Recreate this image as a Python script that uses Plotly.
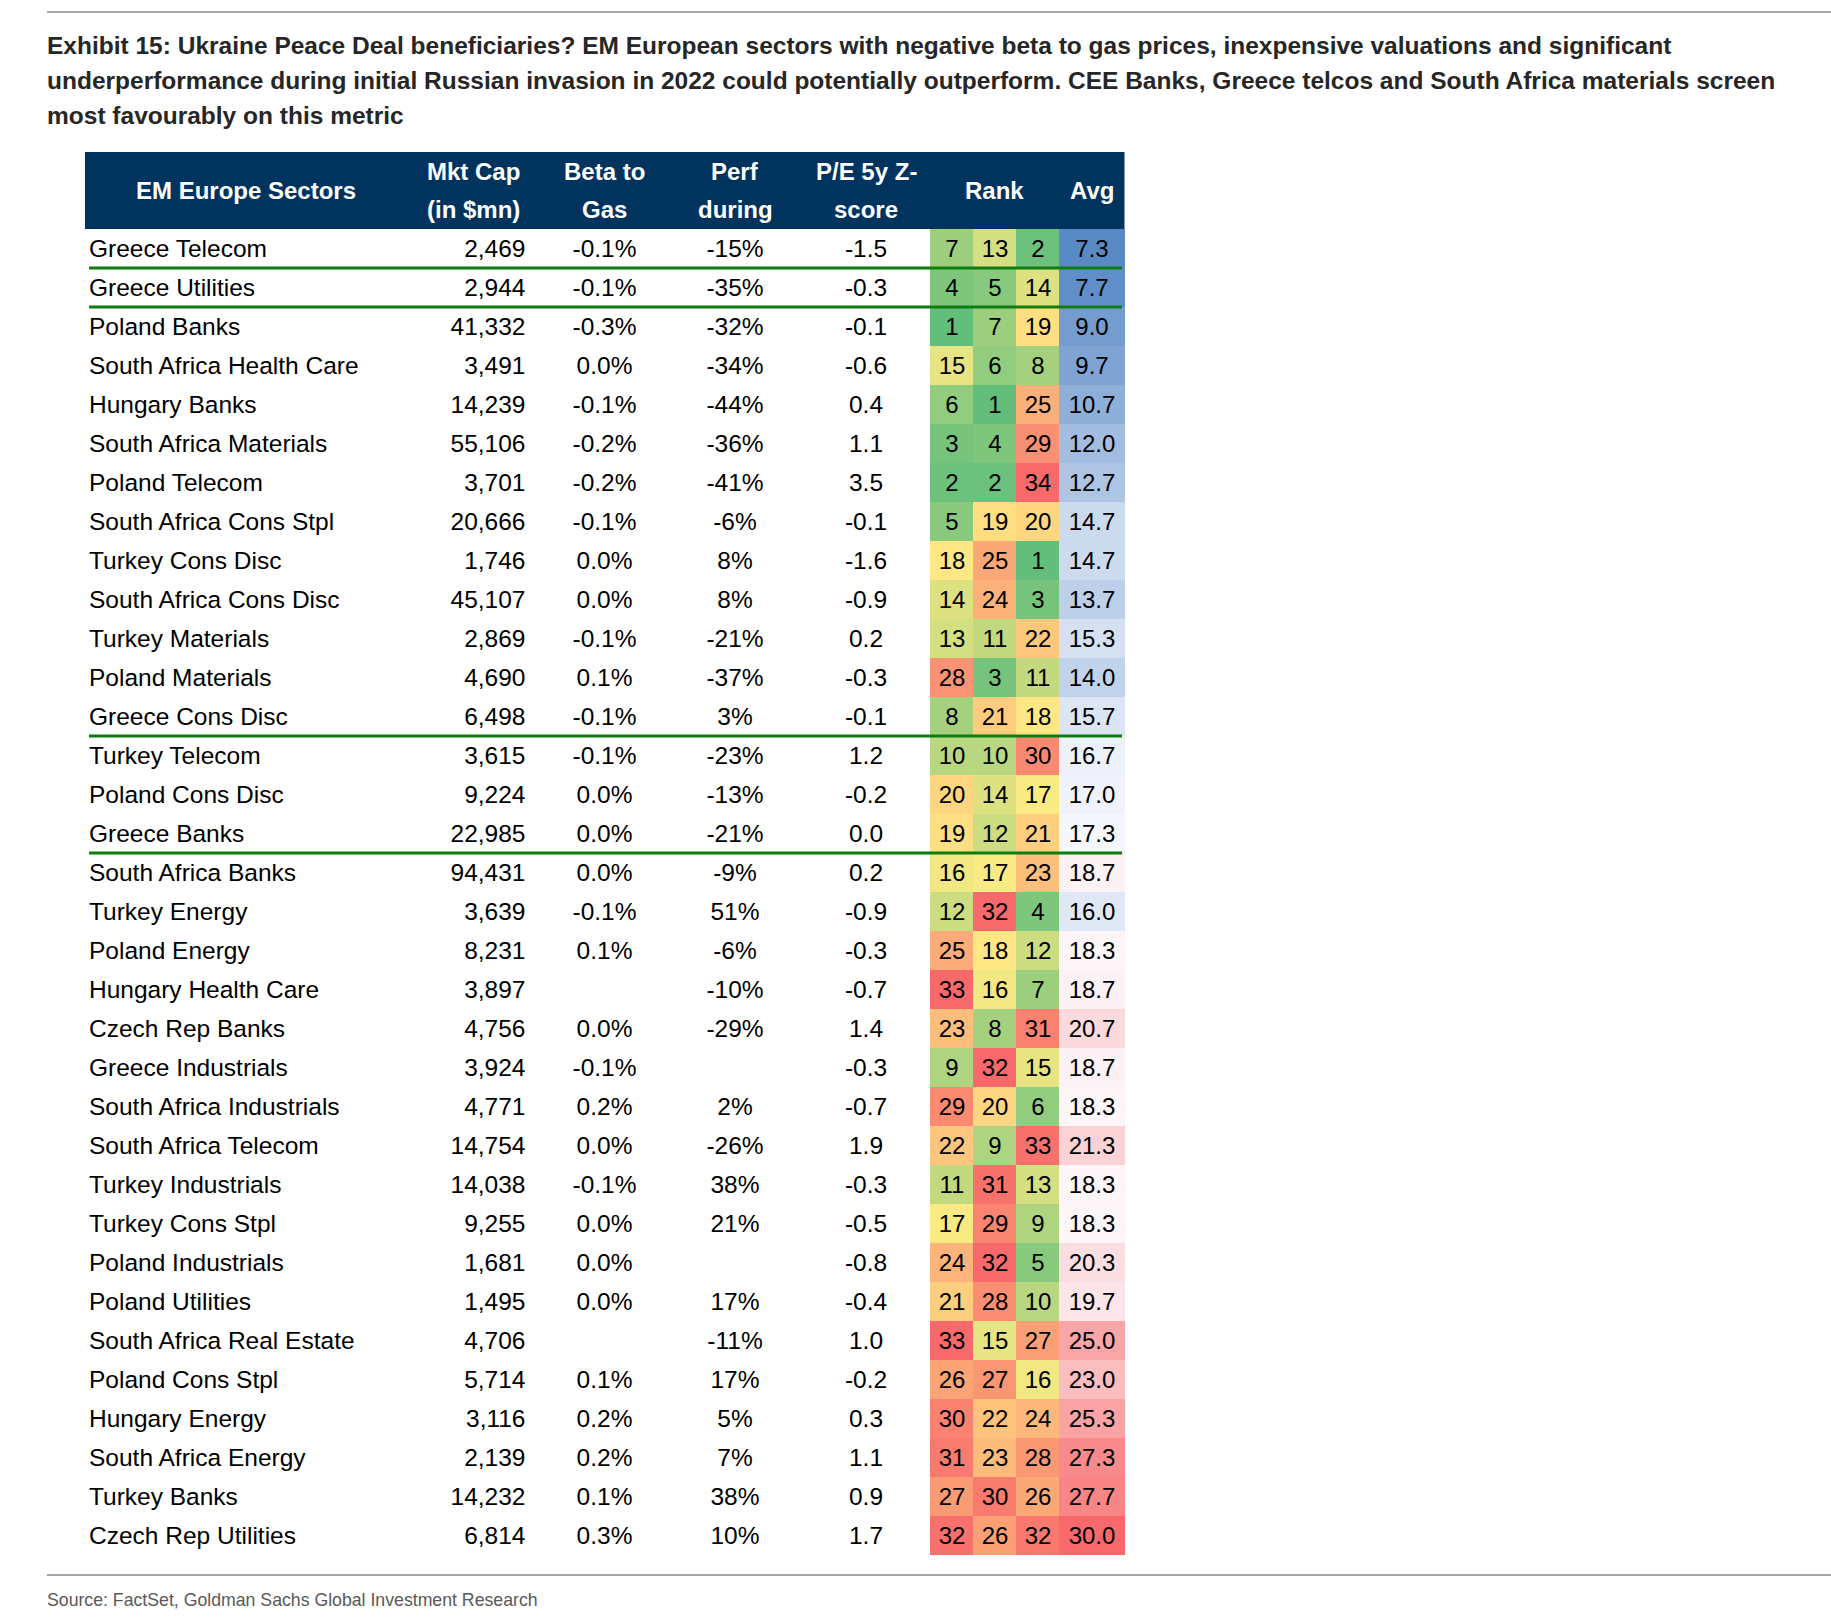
import numpy as np
import plotly.graph_objects as go

# ---------------- data ----------------
sectors = [
    "Greece Telecom", "Greece Utilities", "Poland Banks", "South Africa Health Care",
    "Hungary Banks", "South Africa Materials", "Poland Telecom", "South Africa Cons Stpl",
    "Turkey Cons Disc", "South Africa Cons Disc", "Turkey Materials", "Poland Materials",
    "Greece Cons Disc", "Turkey Telecom", "Poland Cons Disc", "Greece Banks",
    "South Africa Banks", "Turkey Energy", "Poland Energy", "Hungary Health Care",
    "Czech Rep Banks", "Greece Industrials", "South Africa Industrials", "South Africa Telecom",
    "Turkey Industrials", "Turkey Cons Stpl", "Poland Industrials", "Poland Utilities",
    "South Africa Real Estate", "Poland Cons Stpl", "Hungary Energy", "South Africa Energy",
    "Turkey Banks", "Czech Rep Utilities",
]
mkt_cap_mn = [2469, 2944, 41332, 3491, 14239, 55106, 3701, 20666, 1746, 45107, 2869, 4690,
              6498, 3615, 9224, 22985, 94431, 3639, 8231, 3897, 4756, 3924, 4771, 14754,
              14038, 9255, 1681, 1495, 4706, 5714, 3116, 2139, 14232, 6814]
beta_to_gas_pct = [-0.1, -0.1, -0.3, 0.0, -0.1, -0.2, -0.2, -0.1, 0.0, 0.0, -0.1, 0.1,
                   -0.1, -0.1, 0.0, 0.0, 0.0, -0.1, 0.1, None, 0.0, -0.1, 0.2, 0.0,
                   -0.1, 0.0, 0.0, 0.0, None, 0.1, 0.2, 0.2, 0.1, 0.3]
perf_during_pct = [-15, -35, -32, -34, -44, -36, -41, -6, 8, 8, -21, -37,
                   3, -23, -13, -21, -9, 51, -6, -10, -29, None, 2, -26,
                   38, 21, None, 17, -11, 17, 5, 7, 38, 10]
pe_5y_zscore = [-1.5, -0.3, -0.1, -0.6, 0.4, 1.1, 3.5, -0.1, -1.6, -0.9, 0.2, -0.3,
                -0.1, 1.2, -0.2, 0.0, 0.2, -0.9, -0.3, -0.7, 1.4, -0.3, -0.7, 1.9,
                -0.3, -0.5, -0.8, -0.4, 1.0, -0.2, 0.3, 1.1, 0.9, 1.7]
rank_beta = [7, 4, 1, 15, 6, 3, 2, 5, 18, 14, 13, 28, 8, 10, 20, 19, 16, 12, 25, 33,
             23, 9, 29, 22, 11, 17, 24, 21, 33, 26, 30, 31, 27, 32]
rank_perf = [13, 5, 7, 6, 1, 4, 2, 19, 25, 24, 11, 3, 21, 10, 14, 12, 17, 32, 18, 16,
             8, 32, 20, 9, 31, 29, 32, 28, 15, 27, 22, 23, 30, 26]
rank_pe = [2, 14, 19, 8, 25, 29, 34, 20, 1, 3, 22, 11, 18, 30, 17, 21, 23, 4, 12, 7,
           31, 15, 6, 33, 13, 9, 5, 10, 27, 16, 24, 28, 26, 32]
avg_rank = [7.3, 7.7, 9.0, 9.7, 10.7, 12.0, 12.7, 14.7, 14.7, 13.7, 15.3, 14.0, 15.7,
            16.7, 17.0, 17.3, 18.7, 16.0, 18.3, 18.7, 20.7, 18.7, 18.3, 21.3, 18.3,
            18.3, 20.3, 19.7, 25.0, 23.0, 25.3, 27.3, 27.7, 30.0]
separator_after = ["Greece Telecom", "Greece Utilities", "Greece Cons Disc", "Greece Banks"]

header_sector = "EM Europe Sectors"
header_cols = [("Mkt Cap", "(in $mn)"), ("Beta to", "Gas"), ("Perf", "during"), ("P/E 5y Z-", "score")]
header_rank = "Rank"
header_avg = "Avg"
title_lines = [
    "Exhibit 15: Ukraine Peace Deal beneficiaries? EM European sectors with negative beta to gas prices, inexpensive valuations and significant",
    "underperformance during initial Russian invasion in 2022 could potentially outperform. CEE Banks, Greece telcos and South Africa materials screen",
    "most favourably on this metric",
]
source_text = "Source: FactSet, Goldman Sachs Global Investment Research"

# ---------------- layout constants (pixels) ----------------
W, H = 1831, 1623
TABLE_LEFT, TABLE_RIGHT = 85, 1124.5
HEADER_TOP, HEADER_BOTTOM = 152, 229
ROW_H = 39.0
N = len(sectors)
TABLE_BOTTOM = HEADER_BOTTOM + ROW_H * N
TEXT_SHIFT = 2.5  # px nudge of the plain text columns relative to the heat cells
X_NAME = 89
X_MKT_RIGHT = 525.5
X_BETA = 604.5
X_PERF = 735
X_PE = 866
HEAT_EDGES = [930, 973, 1016, 1059, 1124.5]
LEFT_TEXT = 45

FONT = "Liberation Sans, Arial, sans-serif"


def py(p):
    """pixel y -> paper y"""
    return 1 - p / H


def px(p):
    return p / W


GREEN, YELLOW, RED = "#63BE7B", "#FFEB84", "#F8696B"
BLUE, WHITE = "#5A8AC6", "#FCFCFF"


def three_color(vals, lo, mid, hi):
    v = np.asarray(vals, dtype=float)
    vmin, vmax, vmed = v.min(), v.max(), np.median(v)
    m = (vmed - vmin) / (vmax - vmin)
    return dict(colorscale=[[0, lo], [m, mid], [1, hi]], zmin=vmin, zmax=vmax)


fig = go.Figure()

# heat columns
heat_specs = [
    (rank_beta, 0, (GREEN, YELLOW, RED), "%{z}"),
    (rank_perf, 1, (GREEN, YELLOW, RED), "%{z}"),
    (rank_pe, 2, (GREEN, YELLOW, RED), "%{z}"),
    (avg_rank, 3, (BLUE, WHITE, RED), "%{z:.1f}"),
]
for vals, ci, cols, tmpl in heat_specs:
    fig.add_trace(go.Heatmap(
        z=[[v] for v in vals],
        x=[HEAT_EDGES[ci], HEAT_EDGES[ci + 1]],
        y=sectors,
        showscale=False,
        texttemplate=tmpl,
        textfont=dict(family=FONT, size=24, color="black"),
        hoverinfo="skip",
        xgap=0, ygap=0,
        **three_color(vals, *cols),
    ))


def fmt_pct1(v):
    return "" if v is None else f"{v:.1f}%"


def fmt_pct0(v):
    return "" if v is None else f"{v:.0f}%"


text_cols = [
    (X_NAME, sectors, "middle right"),
    (X_MKT_RIGHT, [f"{v:,}" for v in mkt_cap_mn], "middle left"),
    (X_BETA, [fmt_pct1(v) for v in beta_to_gas_pct], "middle center"),
    (X_PERF, [fmt_pct0(v) for v in perf_during_pct], "middle center"),
    (X_PE, [f"{v:.1f}" for v in pe_5y_zscore], "middle center"),
]
for xpos, txt, pos in text_cols:
    fig.add_trace(go.Scatter(
        x=[xpos] * N, y=sectors, mode="text", text=txt, textposition=pos,
        textfont=dict(family=FONT, size=24.5, color="black"),
        hoverinfo="skip", showlegend=False, yaxis="y2",
    ))

shapes = []
# grey rules
for yy in (12, 1575):
    shapes.append(dict(type="line", xref="x", yref="paper", x0=47, x1=W, y0=py(yy), y1=py(yy),
                       line=dict(color="#a6a6a6", width=2)))
# header band
shapes.append(dict(type="rect", xref="x", yref="paper", x0=TABLE_LEFT, x1=TABLE_RIGHT,
                   y0=py(HEADER_BOTTOM), y1=py(HEADER_TOP), fillcolor="#00345F",
                   line=dict(width=0), layer="below"))
# green separators
for name in separator_after:
    i = sectors.index(name)
    shapes.append(dict(type="line", xref="x", yref="y", x0=X_NAME, x1=1122, y0=i + 0.5, y1=i + 0.5,
                       line=dict(color="#0E7C0E", width=3), layer="above"))

annotations = []
for k, line in enumerate(title_lines):
    annotations.append(dict(xref="paper", yref="paper", x=px(LEFT_TEXT), y=py(45 + 35 * k),
                            xanchor="left", yanchor="middle", showarrow=False, text=line,
                            font=dict(family=FONT, size=24.5, color="#262626", weight="bold")))


def hdr(x, y, t):
    annotations.append(dict(xref="x", yref="paper", x=x, y=py(y), xanchor="center", yanchor="middle",
                            showarrow=False, text=t,
                            font=dict(family=FONT, size=24, color="white", weight="bold")))


hdr(246, 190.5, header_sector)
for xc, (l1, l2) in zip([473, X_BETA, X_PERF, X_PE], header_cols):
    hdr(xc, 171, l1)
    hdr(xc, 210, l2)
hdr((HEAT_EDGES[0] + HEAT_EDGES[3]) / 2, 190.5, header_rank)
hdr((HEAT_EDGES[3] + HEAT_EDGES[4]) / 2, 190.5, header_avg)

annotations.append(dict(xref="paper", yref="paper", x=px(LEFT_TEXT), y=py(1600), xanchor="left",
                        yanchor="middle", showarrow=False, text=source_text,
                        font=dict(family=FONT, size=17.7, color="#595959")))

ycat = dict(type="category", categoryorder="array", categoryarray=sectors,
            visible=False, fixedrange=True)
shift_rows = TEXT_SHIFT / ROW_H

fig.update_layout(
    width=W, height=H,
    margin=dict(l=0, r=0, t=0, b=0),
    paper_bgcolor="white", plot_bgcolor="white",
    showlegend=False,
    xaxis=dict(range=[0, W], visible=False, fixedrange=True),
    yaxis=dict(domain=[py(TABLE_BOTTOM), py(HEADER_BOTTOM)], range=[N - 0.5, -0.5], **ycat),
    yaxis2=dict(overlaying="y", anchor="x",
                range=[N - 0.5 - shift_rows, -0.5 - shift_rows], **ycat),
    shapes=shapes,
    annotations=annotations,
)

fig.write_html("out.html", config={"displayModeBar": False},
               post_script="document.body.style.margin='0';")
